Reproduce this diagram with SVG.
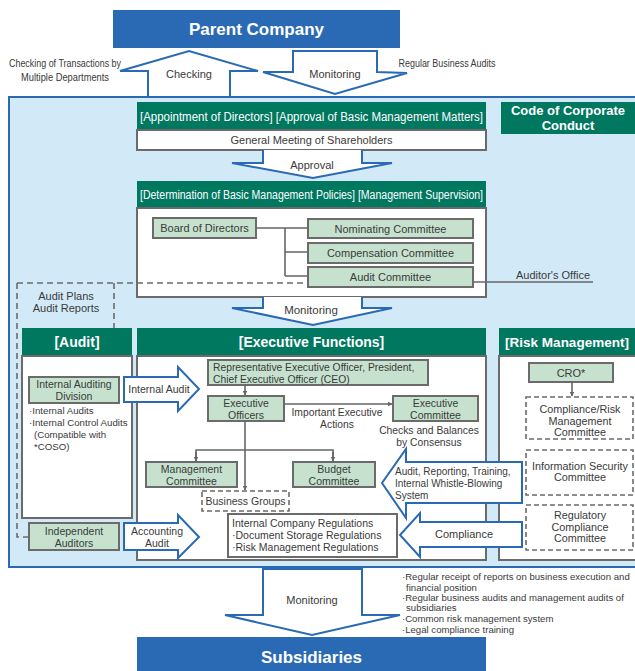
<svg xmlns="http://www.w3.org/2000/svg" width="635" height="671" viewBox="0 0 635 671">
<defs>
<marker id="ah" viewBox="0 0 10 10" refX="9" refY="5" markerWidth="5" markerHeight="5" orient="auto" markerUnits="userSpaceOnUse">
<path d="M0,0 L10,5 L0,10 Z" fill="#666"/>
</marker>
<style>
text{font-family:"Liberation Sans",Arial,sans-serif;fill:#3a3a3a;font-size:10.5px}
.c{text-anchor:middle}
.w{fill:#fff}
.hb{font-weight:bold;fill:#fff}
.blue{fill:#2a6ab4}
.green{fill:#00775f}
.panel{fill:#fff;stroke:#6b6b6b;stroke-width:2}
.lg{fill:#c6e2cf;stroke:#6b6b6b;stroke-width:2}
.dash{fill:#fff;stroke:#6b6b6b;stroke-width:1.6;stroke-dasharray:5,3}
.barrow{fill:#fff;stroke:#2a6ab4;stroke-width:2;stroke-linejoin:miter}
.ln{fill:none;stroke:#666;stroke-width:1.6}
.dl{fill:none;stroke:#6b6b6b;stroke-width:1.6;stroke-dasharray:6,4}
</style>
</defs>
<rect width="635" height="671" fill="#fff"/>

<!-- top block arrows behind frame -->
<g id="top-arrows">
<path class="barrow" d="M148,98 V71 L120,71 L189,51 L258,71 L230,71 V98"/>
<text class="c" x="189" y="78" style="font-size:11px">Checking</text>
<path class="barrow" d="M293,51 H377 V72 L407,73 L335,94 L263,72 L293,72 Z"/>
<text class="c" x="335" y="78" style="font-size:11px">Monitoring</text>
</g>
<text class="c" x="65" y="67" style="font-size:10.5px" textLength="112" lengthAdjust="spacingAndGlyphs">Checking of Transactions by</text>
<text class="c" x="65" y="81" style="font-size:10.5px" textLength="88" lengthAdjust="spacingAndGlyphs">Multiple Departments</text>
<text class="c" x="447" y="67" style="font-size:10.5px" textLength="97" lengthAdjust="spacingAndGlyphs">Regular Business Audits</text>

<g id="parent-company">
<rect class="blue" x="113" y="10" width="287" height="38"/>
<text class="c hb" x="256.5" y="35" style="font-size:17px">Parent Company</text>
</g>

<!-- main frame -->
<rect id="frame" x="9" y="97" width="640" height="470" fill="#d2eaf8" stroke="#2a6ab4" stroke-width="2"/>

<g id="shareholders">
<rect class="green" x="137" y="102" width="349" height="28"/>
<text class="c hb" x="311.5" y="120.5" style="font-size:12.5px;font-weight:normal" textLength="343" lengthAdjust="spacingAndGlyphs">[Appointment of Directors] [Approval of Basic Management Matters]</text>
<rect class="panel" x="137" y="130" width="349" height="20" stroke-width="1.6"/>
<text class="c" x="311.5" y="144" style="font-size:11px">General Meeting of Shareholders</text>
</g>

<g id="code-of-conduct">
<rect class="green" x="501" y="102" width="140" height="32"/>
<text class="c hb" x="568" y="115" style="font-size:13px">Code of Corporate</text>
<text class="c hb" x="568" y="130" style="font-size:13px">Conduct</text>
</g>

<g id="board-panel">
<rect class="green" x="137" y="181" width="349" height="27"/>
<text class="c hb" x="311.5" y="199" style="font-size:12.5px;font-weight:normal" textLength="343" lengthAdjust="spacingAndGlyphs">[Determination of Basic Management Policies] [Management Supervision]</text>
<rect class="panel" x="137" y="208" width="349" height="89"/>
</g>

<g id="connectors">
<path class="dl" d="M17,283 H308"/>
<path class="dl" d="M17,283 V537 H29"/>
<path class="dl" d="M114,283 V328"/>
<path class="ln" d="M256,228 H308 M285,228 V276 M285,252 H308 M285,276 H308"/>
<path class="ln" d="M473,282 H593" stroke-width="1.2"/>
</g>
<text class="c" x="553" y="278.5" style="font-size:11px">Auditor's Office</text>
<text class="c" x="66" y="300" style="font-size:11px">Audit Plans</text>
<text class="c" x="66" y="312" style="font-size:11px">Audit Reports</text>

<g id="board-of-directors">
<rect class="lg" x="153" y="218" width="103" height="20"/>
<text class="c" x="204.5" y="232" style="font-size:11px">Board of Directors</text>
</g>
<g id="nominating-committee">
<rect class="lg" x="308" y="219" width="165" height="19"/>
<text class="c" x="390.5" y="232.5" style="font-size:11px">Nominating Committee</text>
</g>
<g id="compensation-committee">
<rect class="lg" x="308" y="243" width="165" height="20"/>
<text class="c" x="390.5" y="257" style="font-size:11px">Compensation Committee</text>
</g>
<g id="audit-committee">
<rect class="lg" x="308" y="267" width="165" height="20"/>
<text class="c" x="390.5" y="281" style="font-size:11px">Audit Committee</text>
</g>

<g id="audit-panel">
<rect class="green" x="22" y="328" width="110" height="28"/>
<text class="c hb" x="77" y="347" style="font-size:14px">[Audit]</text>
<rect class="panel" x="22" y="356" width="110" height="162"/>
<text x="29" y="413.5" style="font-size:9.7px">·Internal Audits</text>
<text x="29" y="425.5" style="font-size:9.7px">·Internal Control Audits</text>
<text x="34" y="437.5" style="font-size:9.7px">(Compatible with</text>
<text x="34" y="449.5" style="font-size:9.7px">*COSO)</text>
</g>

<g id="executive-panel">
<rect class="green" x="137" y="328" width="349" height="28"/>
<text class="c hb" x="311.5" y="347" style="font-size:14px">[Executive Functions]</text>
<rect class="panel" x="137" y="356" width="349" height="204"/>
</g>

<g id="risk-panel">
<rect class="green" x="499" y="328" width="141" height="28"/>
<text class="c hb" x="567" y="347" style="font-size:13.5px">[Risk Management]</text>
<rect class="panel" x="499" y="356" width="141" height="204"/>
</g>

<g id="internal-auditing-division">
<rect class="lg" x="29" y="377" width="90" height="26"/>
<text class="c" x="74" y="388" style="font-size:10.5px">Internal Auditing</text>
<text class="c" x="74" y="400" style="font-size:10.5px">Division</text>
</g>

<g id="independent-auditors">
<rect class="lg" x="29" y="523" width="90" height="27"/>
<text class="c" x="74" y="534.5" style="font-size:10.5px">Independent</text>
<text class="c" x="74" y="546.5" style="font-size:10.5px">Auditors</text>
</g>

<g id="ceo">
<rect class="lg" x="208" y="360" width="220" height="25"/>
<text x="213" y="371" style="font-size:10.3px">Representative Executive Officer, President,</text>
<text x="213" y="383" style="font-size:10.3px">Chief Executive Officer (CEO)</text>
</g>
<g id="executive-officers">
<rect class="lg" x="208" y="396" width="76" height="25"/>
<text class="c" x="246" y="407" style="font-size:10.5px">Executive</text>
<text class="c" x="246" y="419" style="font-size:10.5px">Officers</text>
</g>
<g id="executive-committee">
<rect class="lg" x="393" y="396" width="85" height="25"/>
<text class="c" x="435.5" y="407" style="font-size:10.5px">Executive</text>
<text class="c" x="435.5" y="419" style="font-size:10.5px">Committee</text>
</g>
<text class="c" x="337" y="416" style="font-size:10.3px">Important Executive</text>
<text class="c" x="337" y="427.5" style="font-size:10.3px">Actions</text>
<text class="c" x="429" y="434" style="font-size:10.3px">Checks and Balances</text>
<text class="c" x="429" y="446" style="font-size:10.3px">by Consensus</text>

<g id="management-committee">
<rect class="lg" x="146" y="462" width="91" height="25"/>
<text class="c" x="191.5" y="472.5" style="font-size:10.5px">Management</text>
<text class="c" x="191.5" y="484.5" style="font-size:10.5px">Committee</text>
</g>
<g id="budget-committee">
<rect class="lg" x="293" y="462" width="82" height="25"/>
<text class="c" x="334" y="472.5" style="font-size:10.5px">Budget</text>
<text class="c" x="334" y="484.5" style="font-size:10.5px">Committee</text>
</g>
<g id="business-groups">
<rect class="dash" x="202" y="491" width="87" height="20"/>
<text class="c" x="245.5" y="505" style="font-size:10.5px">Business Groups</text>
</g>
<g id="internal-regulations">
<rect class="panel" x="228" y="514" width="169" height="43"/>
<text x="232" y="527" style="font-size:10.5px">Internal Company Regulations</text>
<text x="232" y="539" style="font-size:10.5px">·Document Storage Regulations</text>
<text x="232" y="551" style="font-size:10.5px">·Risk Management Regulations</text>
</g>

<g id="cro">
<rect class="lg" x="529" y="363" width="84" height="19"/>
<text class="c" x="571" y="376.5" style="font-size:11px">CRO*</text>
</g>
<g id="compliance-risk-committee">
<rect class="dash" x="526" y="397" width="107" height="42"/>
<text class="c" x="580" y="413" style="font-size:10.8px">Compliance/Risk</text>
<text class="c" x="580" y="424.5" style="font-size:10.8px">Management</text>
<text class="c" x="580" y="436" style="font-size:10.8px">Committee</text>
</g>
<g id="information-security-committee">
<rect class="dash" x="526" y="450" width="107" height="45"/>
<text class="c" x="580" y="469.5" style="font-size:10.8px">Information Security</text>
<text class="c" x="580" y="481" style="font-size:10.8px">Committee</text>
</g>
<g id="regulatory-compliance-committee">
<rect class="dash" x="526" y="505" width="107" height="45"/>
<text class="c" x="580" y="519" style="font-size:10.8px">Regulatory</text>
<text class="c" x="580" y="530.5" style="font-size:10.8px">Compliance</text>
<text class="c" x="580" y="542" style="font-size:10.8px">Committee</text>
</g>

<g id="flow-connectors">
<path class="ln" d="M245,385 V395" marker-end="url(#ah)"/>
<path class="ln" d="M284,404 H392" marker-end="url(#ah)"/>
<path class="ln" d="M245,421 V490" marker-end="url(#ah)"/>
<path class="ln" d="M196,461 V450 H333 V461" />
<path class="ln" d="M196,452 V461" marker-end="url(#ah)"/>
<path class="ln" d="M333,452 V461" marker-end="url(#ah)"/>
<path class="ln" d="M572,382 V396" marker-end="url(#ah)"/>

<path class="barrow" d="M263,150 V163 L232,163 L313,178 L392,163 L362,163 V150"/>
<text class="c" x="312" y="169" style="font-size:11px">Approval</text>
<path class="barrow" d="M263,297 V308 L232,308 L313,325 L392,308 L362,308 V297"/>
<text class="c" x="311" y="314" style="font-size:11.5px">Monitoring</text>

<path class="barrow" d="M124,377 H178 V367 L199,389 L178,411 V402 H124 Z"/>
<text class="c" x="159" y="393" style="font-size:10.5px">Internal Audit</text>
<path class="barrow" d="M124,523 H178 V515 L199,537 L178,558 V550 H124 Z"/>
<text class="c" x="157" y="534.5" style="font-size:10.5px">Accounting</text>
<text class="c" x="157" y="546.5" style="font-size:10.5px">Audit</text>

<path class="barrow" d="M522,462 H406 V449 L382,483 L406,518 V503 H522 Z"/>
<text x="395" y="475" style="font-size:10px">Audit, Reporting, Training,</text>
<text x="395" y="487" style="font-size:10px">Internal Whistle-Blowing</text>
<text x="395" y="499" style="font-size:10px">System</text>
<path class="barrow" d="M522,522 H420 V513 L400,535 L420,557 V547 H522 Z"/>
<text class="c" x="464" y="538" style="font-size:11px">Compliance</text>

<path class="barrow" d="M263,569 H362 V615 L400,615 L312,635 L225,615 L263,615 Z"/>
<text class="c" x="312" y="604" style="font-size:11px">Monitoring</text>
</g>

<g id="subsidiaries">
<rect class="blue" x="137" y="637" width="349" height="40"/>
<text class="c hb" x="311.5" y="663" style="font-size:17px">Subsidiaries</text>
</g>

<g id="notes">
<text x="402" y="579.5" style="font-size:9.6px">·Regular receipt of reports on business execution and</text>
<text x="406" y="590.5" style="font-size:9.6px">financial position</text>
<text x="402" y="600.5" style="font-size:9.6px">·Regular business audits and management audits of</text>
<text x="406" y="611" style="font-size:9.6px">subsidiaries</text>
<text x="402" y="621.5" style="font-size:9.6px">·Common risk management system</text>
<text x="402" y="632.5" style="font-size:9.6px">·Legal compliance training</text>
</g>
</svg>
